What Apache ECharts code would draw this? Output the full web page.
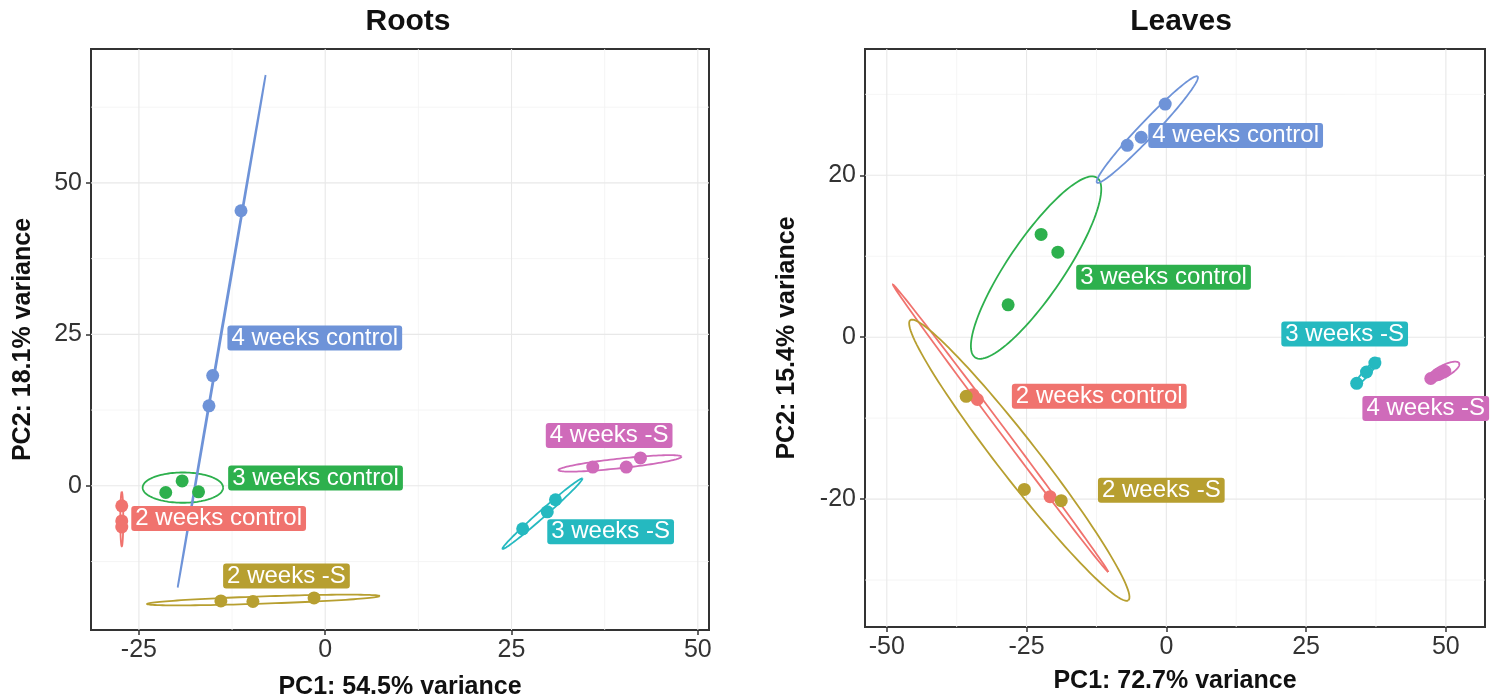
<!DOCTYPE html>
<html><head><meta charset="utf-8">
<script src="https://cdn.jsdelivr.net/npm/echarts@6/dist/echarts.min.js"></script>
<style>html,body{margin:0;padding:0;background:#fff}#c{width:1494px;height:698px}</style>
</head><body><div id="c"></div>
<script>
// ---------- data ----------
const groups = ['2 weeks control', '2 weeks -S', '3 weeks control', '3 weeks -S', '4 weeks control', '4 weeks -S'];
const groupColors = ['#F0736E', '#B79F30', '#2DB04D', '#25B9C0', '#6E93D8', '#CF6BBA'];

// Roots PCA scores (per group, 3 samples)
const rootsPC1 = [[-27.3, -27.3, -27.3], [-14.0, -9.7, -1.5], [-21.4, -19.2, -17.0], [26.5, 29.8, 30.9], [-15.6, -15.1, -11.3], [35.9, 40.4, 42.3]];
const rootsPC2 = [[-3.3, -5.8, -6.8], [-19.0, -19.1, -18.5], [-1.1, 0.8, -1.0], [-7.1, -4.3, -2.3], [13.2, 18.2, 45.4], [3.1, 3.1, 4.6]];
// Roots confidence ellipses: centre, conjugate semi-axis vectors (data units)
const rootsEllipseCenter = [[-27.3, -5.5], [-8.3, -18.85], [-19.1, -0.3], [29.15, -4.6], [-13.9, 25.5], [39.55, 3.7]];
const rootsEllipseAxisA = [[0, 4.5], [15.6, 0.65], [5.4, 0], [5.35, 5.8], [5.9, 42.3], [8.25, 1.1]];
const rootsEllipseAxisB = [[0.2, 0], [0, 0.6], [0, 2.5], [0.31, -0.43], [0.07, -0.012], [0, 0.8]];
// Roots label anchors (data units)
const rootsLabelPos = [[-14.3, -5.4], [-5.2, -14.9], [-1.3, 1.3], [38.3, -7.6], [-1.4, 24.4], [38.1, 8.3]];

// Leaves PCA scores
const leavesPC1 = [[-34.6, -33.8, -20.8], [-35.8, -25.4, -18.8], [-28.3, -22.4, -19.4], [34.05, 35.8, 37.3], [-7.0, -4.5, -0.2], [47.3, 48.6, 49.8]];
const leavesPC2 = [[-7.1, -7.7, -19.7], [-7.3, -18.8, -20.2], [4.0, 12.7, 10.5], [-5.7, -4.3, -3.2], [23.7, 24.7, 28.8], [-5.1, -4.6, -4.2]];
const leavesEllipseCenter = [[-29.65, -11.25], [-26.3, -15.2], [-23.3, 8.6], [35.8, -4.4], [-3.4, 25.65], [49.5, -4.26]];
const leavesEllipseAxisA = [[19.25, -17.75], [19.5, -17.3], [10.9, 11.1], [2.33, 1.79], [9.0, 6.55], [2.87, 1.05]];
const leavesEllipseAxisB = [[0.43, 0.22], [2.83, 1.52], [4.14, -1.94], [0.4, -0.25], [1.04, -0.68], [0.5, -0.65]];
const leavesLabelPos = [[-12.0, -7.3], [-0.9, -18.9], [-0.5, 7.4], [31.9, 0.4], [12.4, 24.9], [46.4, -8.8]];

// axes
const rootsXTicks = [-25, 0, 25, 50];
const rootsYTicks = [0, 25, 50];
const rootsXMinor = [-12.5, 12.5, 37.5];
const rootsYMinor = [-12.5, 12.5, 37.5, 62.5];
const leavesXTicks = [-50, -25, 0, 25, 50];
const leavesYTicks = [-20, 0, 20];
const leavesXMinor = [-37.5, -12.5, 12.5, 37.5];
const leavesYMinor = [-30, -10, 10, 30];
const rootsXRange = [-31.43, 51.5], rootsYRange = [-23.8, 72.1];
const leavesXRange = [-53.9, 57.0], leavesYRange = [-35.8, 35.6];

// ---------- chart ----------
const FONT = 'Liberation Sans, Arial, Helvetica, sans-serif';
const chart = echarts.init(document.getElementById('c'));

function gridLineData(xMaj, yMaj, xMin, yMin) {
  const d = [];
  xMin.forEach(v => d.push([v, 0, 0]));
  yMin.forEach(v => d.push([v, 1, 0]));
  xMaj.forEach(v => d.push([v, 0, 1]));
  yMaj.forEach(v => d.push([v, 1, 1]));
  return d;
}
function renderGridLine(params, api) {
  const cs = params.coordSys;
  const v = api.value(0), o = api.value(1), m = api.value(2);
  let shape;
  if (o === 0) {
    const x = api.coord([v, 0])[0];
    shape = {x1: x, y1: cs.y, x2: x, y2: cs.y + cs.height};
  } else {
    const y = api.coord([0, v])[1];
    shape = {x1: cs.x, y1: y, x2: cs.x + cs.width, y2: y};
  }
  return {type: 'line', shape, style: {stroke: m ? '#e8e8e8' : '#f2f2f2', lineWidth: m ? 1.1 : 0.8}, silent: true};
}
function renderEllipse(params, api) {
  const cx = api.value(0), cy = api.value(1), ax = api.value(2), ay = api.value(3), bx = api.value(4), by = api.value(5), g = api.value(6);
  const pts = [];
  const N = 120;
  for (let i = 0; i <= N; i++) {
    const t = i / N * 2 * Math.PI;
    pts.push(api.coord([cx + Math.cos(t) * ax + Math.sin(t) * bx, cy + Math.cos(t) * ay + Math.sin(t) * by]));
  }
  return {type: 'polyline', shape: {points: pts}, style: {fill: null, stroke: groupColors[g], lineWidth: 1.8}};
}

function panelSeries(idx, pc1, pc2, ec, ea, eb, lp, xMaj, yMaj, xMin, yMin) {
  const s = [];
  s.push({type: 'custom', xAxisIndex: idx, yAxisIndex: idx, renderItem: renderGridLine, data: gridLineData(xMaj, yMaj, xMin, yMin), z: 0, silent: true, clip: false});
  s.push({type: 'custom', xAxisIndex: idx, yAxisIndex: idx, renderItem: renderEllipse, z: 2, silent: true, clip: true,
    data: groups.map((g, i) => [ec[i][0], ec[i][1], ea[i][0], ea[i][1], eb[i][0], eb[i][1], i])});
  groups.forEach((g, i) => {
    s.push({type: 'scatter', name: g, xAxisIndex: idx, yAxisIndex: idx, symbolSize: 13, z: 3,
      itemStyle: {color: groupColors[i], opacity: 1},
      data: pc1[i].map((x, k) => [x, pc2[i][k]])});
  });
  s.push({type: 'scatter', xAxisIndex: idx, yAxisIndex: idx, symbolSize: 1, z: 5, silent: true,
    itemStyle: {color: 'rgba(0,0,0,0)', opacity: 1},
    data: groups.map((g, i) => ({value: [lp[i][0], lp[i][1], g],
      label: {backgroundColor: groupColors[i]}})),
    label: {show: true, position: 'inside', formatter: p => p.data.value[2], color: '#fff', fontSize: 24, opacity: 1,
      fontFamily: FONT, lineHeight: 23, padding: [1, 4, 1, 4], borderRadius: 3}});
  return s;
}

function xAxisCfg(idx, range, ticks, name, gap) {
  return {gridIndex: idx, type: 'value', min: range[0], max: range[1],
    splitLine: {show: false}, axisLine: {show: false, onZero: false},
    axisTick: {show: true, length: 5, inside: false, lineStyle: {color: '#333', width: 1.5}, customValues: ticks},
    axisLabel: {customValues: ticks, fontSize: 25, color: '#333', margin: 8, fontFamily: FONT},
    name, nameLocation: 'middle', nameGap: gap,
    nameTextStyle: {fontSize: 25, fontWeight: 'bold', color: '#111', fontFamily: FONT}};
}
function yAxisCfg(idx, range, ticks, name, gap) {
  return {gridIndex: idx, type: 'value', min: range[0], max: range[1],
    splitLine: {show: false}, axisLine: {show: false, onZero: false},
    axisTick: {show: true, length: 5, inside: false, lineStyle: {color: '#333', width: 1.5}, customValues: ticks},
    axisLabel: {customValues: ticks, fontSize: 25, color: '#333', margin: 9, fontFamily: FONT},
    name, nameLocation: 'middle', nameGap: gap, nameRotate: 90,
    nameTextStyle: {fontSize: 25, fontWeight: 'bold', color: '#111', fontFamily: FONT}};
}

const option = {
  backgroundColor: '#fff',
  animation: false,
  title: [
    {text: 'Roots', left: 403, top: 2, textAlign: 'center', textStyle: {fontSize: 30, fontWeight: 'bold', color: '#111', fontFamily: FONT}},
    {text: 'Leaves', left: 1176, top: 2, textAlign: 'center', textStyle: {fontSize: 30, fontWeight: 'bold', color: '#111', fontFamily: FONT}}
  ],
  grid: [
    {left: 91, top: 49, width: 618, height: 581, show: true, borderColor: '#333', borderWidth: 2, backgroundColor: '#fff', outerBoundsMode: 'none', containLabel: false},
    {left: 865, top: 49, width: 620, height: 578, show: true, borderColor: '#333', borderWidth: 2, backgroundColor: '#fff', outerBoundsMode: 'none', containLabel: false}
  ],
  xAxis: [
    xAxisCfg(0, rootsXRange, rootsXTicks, 'PC1: 54.5% variance', 45),
    xAxisCfg(1, leavesXRange, leavesXTicks, 'PC1: 72.7% variance', 42)
  ],
  yAxis: [
    yAxisCfg(0, rootsYRange, rootsYTicks, 'PC2: 18.1% variance', 55),
    yAxisCfg(1, leavesYRange, leavesYTicks, 'PC2: 15.4% variance', 65)
  ],
  series: [
    ...panelSeries(0, rootsPC1, rootsPC2, rootsEllipseCenter, rootsEllipseAxisA, rootsEllipseAxisB, rootsLabelPos, rootsXTicks, rootsYTicks, rootsXMinor, rootsYMinor),
    ...panelSeries(1, leavesPC1, leavesPC2, leavesEllipseCenter, leavesEllipseAxisA, leavesEllipseAxisB, leavesLabelPos, leavesXTicks, leavesYTicks, leavesXMinor, leavesYMinor)
  ]
};
chart.setOption(option);
</script>
</body></html>
